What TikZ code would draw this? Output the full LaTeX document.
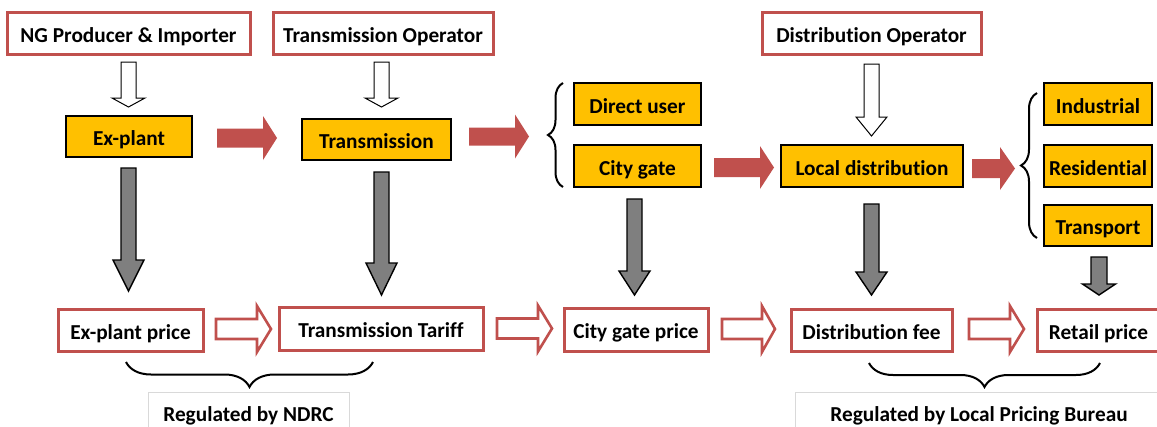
\documentclass[tikz,border=0pt]{standalone}
\usepackage{fontspec}
\setmainfont{Carlito}[Ligatures=NoCommon]
\usetikzlibrary{calc,decorations.pathreplacing}
\definecolor{redb}{HTML}{C0504D}
\definecolor{yel}{HTML}{FFC000}
\definecolor{grayA}{HTML}{7F7F7F}
\definecolor{lightframe}{HTML}{D9D9D9}
% vertical block arrow: style, start, tip, shaft half, head half, head length
\newcommand\VArr[6]{\draw[#1] let \p1=(#2), \p2=(#3) in
  (\x1-#4,\y1) -- (\x1+#4,\y1) -- (\x1+#4,\y2+#6) -- (\x1+#5,\y2+#6) -- (\x1,\y2)
  -- (\x1-#5,\y2+#6) -- (\x1-#4,\y2+#6) -- cycle;}
% horizontal block arrow: style, start, tip, shaft half, head half, head length
\newcommand\HArr[6]{\draw[#1] let \p1=(#2), \p2=(#3) in
  (\x1,\y1-#4) -- (\x2-#6,\y1-#4) -- (\x2-#6,\y1-#5) -- (\x2,\y1) -- (\x2-#6,\y1+#5)
  -- (\x2-#6,\y1+#4) -- (\x1,\y1+#4) -- cycle;}
\begin{document}
\begin{tikzpicture}[x=1pt,y=-1pt,
  font=\fontsize{21.3}{25}\selectfont\bfseries,
  redbox/.style={draw=redb, line width=3pt, fill=white, minimum height=42pt,
    inner sep=0pt, text height=18pt, text depth=0pt},
  yellowbox/.style={draw=black, line width=1.5pt, fill=yel, minimum height=41pt,
    inner sep=0pt, text height=18pt, text depth=0pt},
  labelbox/.style={draw=lightframe, line width=1pt, fill=white, minimum height=40pt,
    inner sep=0pt, text height=18pt, text depth=0pt},
  whitearrow/.style={draw=black, fill=white, line width=1pt},
  grayarrow/.style={draw=black, fill=grayA, line width=1.4pt},
  redarrow/.style={fill=redb, draw=none},
  hollowarrow/.style={draw=redb, fill=white, line width=2.6pt},
  bracestyle/.style={decorate, decoration={brace, amplitude=#1}, line width=2pt, draw=black}]
\useasboundingbox (0,0) rectangle (1157,426);

% top operators
\node[redbox, minimum width=243pt] (ng) at (128.5,33) {NG Producer \& Importer};
\node[redbox, minimum width=220pt] (to) at (383,33) {Transmission Operator};
\node[redbox, minimum width=219pt] (do) at (871.5,33) {Distribution Operator};

% stages
\node[yellowbox, minimum width=126pt] (ex) at (129,136.5) {Ex-plant};
\node[yellowbox, minimum width=149pt] (tr) at (376.5,139.5) {Transmission};
\node[yellowbox, minimum width=127pt, minimum height=42pt] (du) at (637.5,104) {Direct user};
\node[yellowbox, minimum width=127pt, minimum height=42pt] (cg) at (637.5,166) {City gate};
\node[yellowbox, minimum width=182pt, minimum height=42pt] (ld) at (872,166) {Local distribution};
\node[yellowbox, minimum width=108pt, minimum height=42pt] (ind) at (1098,104) {Industrial};
\node[yellowbox, minimum width=108pt, minimum height=42pt] (res) at (1098,166) {Residential};
\node[yellowbox, minimum width=108pt] (tra) at (1098,225.5) {Transport};

% prices
\node[redbox, minimum width=145pt] (exp) at (130.5,330) {Ex-plant price};
\node[redbox, minimum width=204pt, minimum height=43pt] (tt) at (381,328.5) {Transmission Tariff};
\node[redbox, minimum width=144pt, minimum height=43pt] (cgp) at (636,329.5) {City gate price};
\node[redbox, minimum width=161pt] (df) at (871.5,330) {Distribution fee};
\node[redbox, minimum width=123pt] (rp) at (1098.5,330) {Retail price};

% regulators
\node[labelbox, minimum width=201pt] (ndrc) at (248.5,412) {Regulated by NDRC};
\node[labelbox, minimum width=368pt] (lpb) at (979,412) {Regulated by Local Pricing Bureau};

% arrow end points
\coordinate (w1s) at (128.5,62);  \coordinate (w1e) at (128.5,107);
\coordinate (w2s) at (381.5,62);  \coordinate (w2e) at (381.5,107);
\coordinate (w3s) at (871.5,64);  \coordinate (w3e) at (871.5,136);
\coordinate (g1s) at (128.5,168); \coordinate (g1e) at (128.5,291);
\coordinate (g2s) at (381.5,172); \coordinate (g2e) at (381.5,295);
\coordinate (g3s) at (634.5,199); \coordinate (g3e) at (634.5,295);
\coordinate (g4s) at (871.5,204); \coordinate (g4e) at (871.5,295);
\coordinate (g5s) at (1099,257);  \coordinate (g5e) at (1099,295);
\coordinate (r1s) at (217,138);   \coordinate (r1e) at (277,138);
\coordinate (r2s) at (469,136.5); \coordinate (r2e) at (529,136.5);
\coordinate (r3s) at (714,167.5); \coordinate (r3e) at (774,167.5);
\coordinate (r4s) at (972,168.5); \coordinate (r4e) at (1015,168.5);
\coordinate (h1s) at (216,329);   \coordinate (h1e) at (271,329);
\coordinate (h2s) at (497,328.5); \coordinate (h2e) at (552,328.5);
\coordinate (h3s) at (722,329);   \coordinate (h3e) at (775,329);
\coordinate (h4s) at (969,329);   \coordinate (h4e) at (1024,329);

% operator arrows
\VArr{whitearrow}{w1s}{w1e}{7.5pt}{16.5pt}{9pt}
\VArr{whitearrow}{w2s}{w2e}{7.5pt}{16.5pt}{9pt}
\VArr{whitearrow}{w3s}{w3e}{7.5pt}{15.5pt}{19pt}

% price arrows
\VArr{grayarrow}{g1s}{g1e}{7.5pt}{15.5pt}{31pt}
\VArr{grayarrow}{g2s}{g2e}{7.5pt}{15.5pt}{32pt}
\VArr{grayarrow}{g3s}{g3e}{7.5pt}{15.5pt}{24pt}
\VArr{grayarrow}{g4s}{g4e}{7.5pt}{15.5pt}{23pt}
\VArr{grayarrow}{g5s}{g5e}{8pt}{16.5pt}{11pt}

% flow arrows
\HArr{redarrow}{r1s}{r1e}{9.5pt}{22pt}{14pt}
\HArr{redarrow}{r2s}{r2e}{9pt}{22pt}{14pt}
\HArr{redarrow}{r3s}{r3e}{9.5pt}{21.5pt}{14pt}
\HArr{redarrow}{r4s}{r4e}{9.5pt}{21.5pt}{15pt}

% price chain arrows
\HArr{hollowarrow}{h1s}{h1e}{10pt}{23pt}{14pt}
\HArr{hollowarrow}{h2s}{h2e}{10pt}{23pt}{14pt}
\HArr{hollowarrow}{h3s}{h3e}{10pt}{23pt}{13pt}
\HArr{hollowarrow}{h4s}{h4e}{10pt}{23pt}{14pt}

% braces
\draw[bracestyle=15pt] (563,187) -- (563,83);
\draw[bracestyle=16pt] (1037,238) -- (1037,93);
\draw[bracestyle=25pt] (373,362) -- (126,362);
\draw[bracestyle=24pt] (1100,363) -- (869,363);
\end{tikzpicture}
\end{document}
